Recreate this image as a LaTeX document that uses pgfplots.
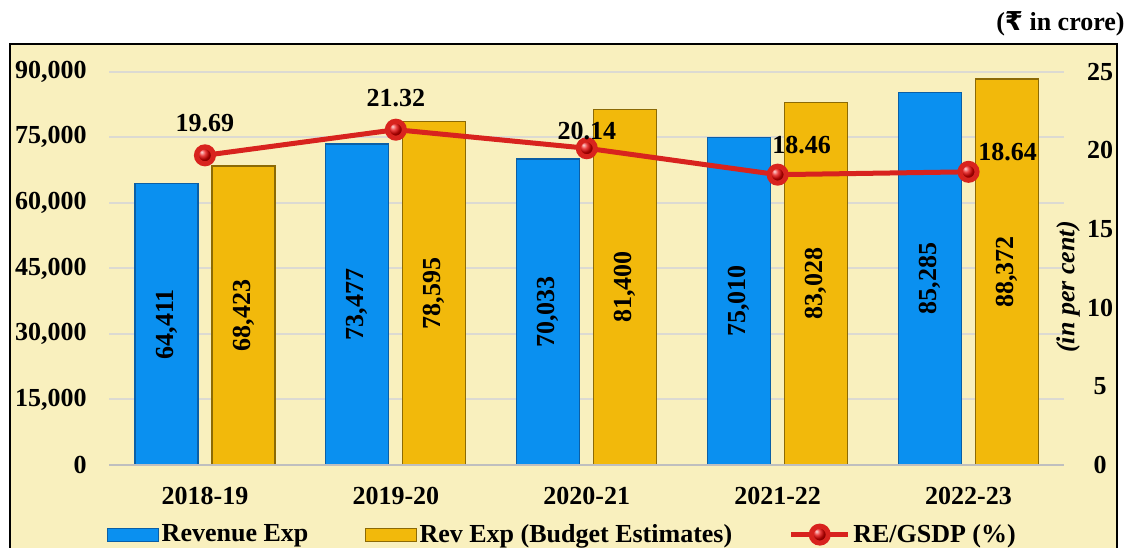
\documentclass[border=0pt]{standalone}
\usepackage{fontspec}
\setmainfont{Liberation Serif}
\newfontfamily\rupeefont{DejaVu Sans}
\usepackage{pgfplots}
\pgfplotsset{compat=1.18}
\usepackage{pgfplotstable}

\definecolor{bgyel}{HTML}{F9F0BE}
\definecolor{barblue}{HTML}{0A90F0}
\definecolor{bluedge}{HTML}{0B5FA5}
\definecolor{bargold}{HTML}{F2B90B}
\definecolor{goldedge}{HTML}{8C6A05}
\definecolor{linered}{HTML}{D8231E}
\definecolor{gridgray}{HTML}{DCDAD2}

\pgfplotsset{
  barimg/.style={legend image code/.code={\draw[##1] (0pt,-3.25pt) rectangle (25.5pt,3.25pt);}},
  lineimg/.style={legend image code/.code={\draw[mark repeat=2,mark phase=2,##1] plot coordinates {(0pt,0pt) (14.25pt,0pt) (28.5pt,0pt)};}},
}

% x = category index, re = revenue exp, be = budget estimates, gsdp = RE/GSDP (%)
% dx, dy = offset of the percentage label from its point (pt)
\pgfplotstableread{
x  re    be    gsdp  dx   dy
0  64411 68423 19.69 0    16
1  73477 78595 21.32 0    16
2  70033 81400 20.14 0    8.5
3  75010 83028 18.46 12   15
4  85285 88372 18.64 19.5 10
}\data

\begin{document}
\begin{tikzpicture}[font=\fontsize{13}{15.6}\selectfont\bfseries]
\useasboundingbox (-54.75pt,-41pt) rectangle (509.75pt,232.5pt);
\fill[bgyel] (-49.75pt,-50pt) rectangle (503.75pt,210.5pt);
\draw[black, line width=1pt] (-49.75pt,-50pt) -- (-49.75pt,210.5pt) -- (503.75pt,210.5pt) -- (503.75pt,-50pt);

\begin{axis}[
  scale only axis, width=477.25pt, height=196.6pt,
  xmin=-0.5, xmax=4.5, ymin=0, ymax=90000,
  xtick={0,...,4}, xticklabels={2018-19,2019-20,2020-21,2021-22,2022-23},
  ytick={0,15000,...,90000},
  scaled y ticks=false,
  /pgf/number format/1000 sep={,},
  /pgf/number format/assume math mode=true,
  axis line style={draw=none}, major tick length=0pt,
  ymajorgrids, major grid style={gridgray, line width=1pt},
  x tick label style={anchor=base, yshift=-19.5pt, inner sep=0pt},
  y tick label style={anchor=east, xshift=-11.25pt, inner sep=0pt},
  clip=false,
]
\addplot[ybar, bar width=31.5pt, bar shift=-19.25pt, fill=barblue, draw=bluedge, line width=0.6pt] table[x=x,y=re]{\data};
\addplot[ybar, bar width=31.5pt, bar shift=19.25pt, fill=bargold, draw=goldedge, line width=0.6pt] table[x=x,y=be]{\data};
% value labels in the middle of each bar
\addplot[draw=none, mark=none, x filter/.expression={x-0.2016}, y filter/.expression={y/2}, point meta=rawy,
  nodes near coords, every node near coord/.append style={rotate=90, anchor=center, text=black}] table[x=x,y=re]{\data};
\addplot[draw=none, mark=none, x filter/.expression={x+0.2016}, y filter/.expression={y/2}, point meta=rawy,
  nodes near coords, every node near coord/.append style={rotate=90, anchor=center, text=black}] table[x=x,y=be]{\data};
\draw[gray!50, line width=1.4pt] (rel axis cs:0,0) -- (rel axis cs:1,0);
\end{axis}

\begin{axis}[
  scale only axis, width=477.25pt, height=196.6pt,
  xmin=-0.5, xmax=4.5, ymin=0, ymax=25,
  axis x line=none, axis y line*=right,
  axis line style={draw=none}, major tick length=0pt,
  ytick={0,5,...,25},
  y tick label style={anchor=center, xshift=18pt, inner sep=0pt},
  /pgf/number format/assume math mode=true,
  clip=false,
  legend columns=3,
  legend style={at={(-0.003,-0.177)}, anchor=west, draw=none, fill=none, inner sep=0pt,
    nodes={inner sep=1.25pt}, /tikz/every even column/.append style={column sep=27pt}},
]
\addlegendimage{barimg, fill=barblue, draw=bluedge, line width=0.6pt}
\addlegendentry{Revenue Exp}
\addlegendimage{barimg, fill=bargold, draw=goldedge, line width=0.6pt}
\addlegendentry{Rev Exp (Budget Estimates)}
\addplot[lineimg, linered, line width=2.5pt, mark=ball, mark size=4.25pt, mark options={ball color=red!90!black},
  visualization depends on={\thisrow{dx}\as\ldx},
  visualization depends on={\thisrow{dy}\as\ldy},
  nodes near coords,
  every node near coord/.append style={anchor=center, text=black, xshift=\ldx pt, yshift=\ldy pt,
    /pgf/number format/.cd, fixed, fixed zerofill, precision=2}] table[x=x,y=gsdp]{\data};
\addlegendentry{RE/GSDP (\%)}
\end{axis}

\node[rotate=90, font=\fontsize{13}{15.6}\selectfont\bfseries\itshape] at (479.25pt,89pt) {(in per cent)};
\node[anchor=base east, inner sep=0pt] at (507.75pt,217pt) {({\rupeefont ₹} in crore)};
\end{tikzpicture}
\end{document}
